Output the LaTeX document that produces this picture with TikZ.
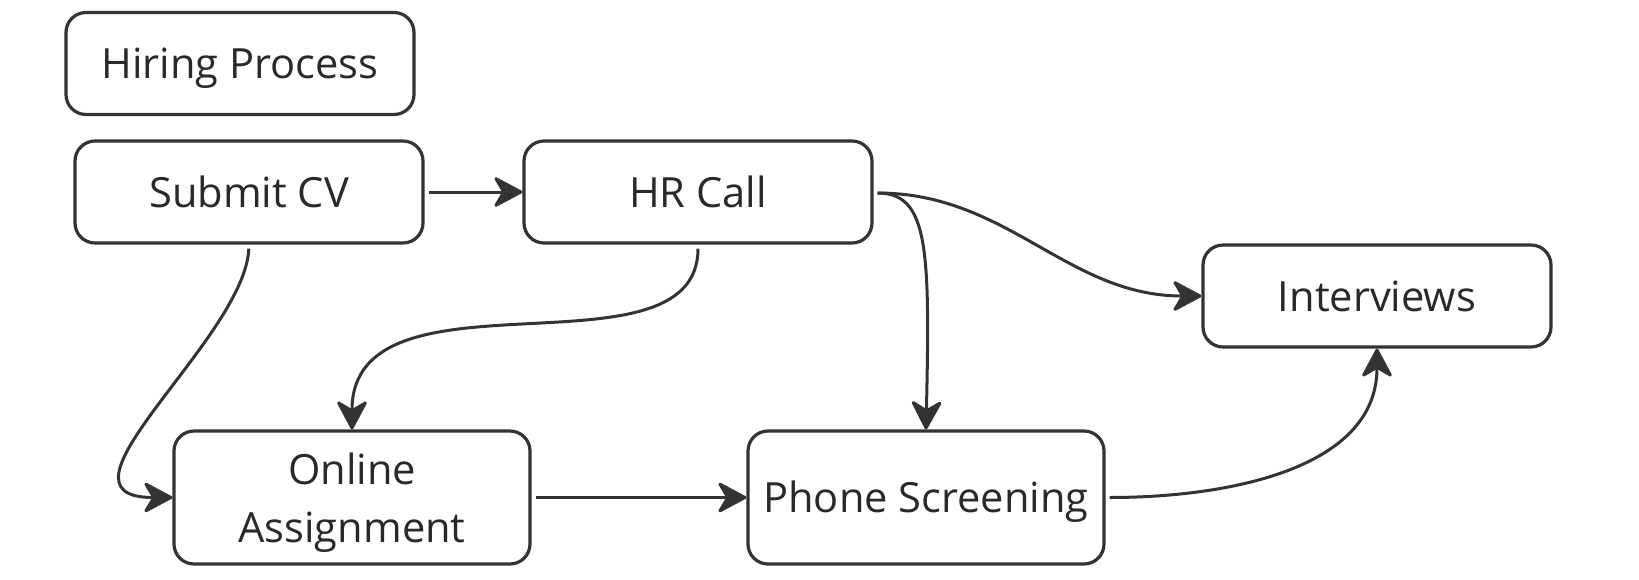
\documentclass[tikz,border=0pt]{standalone}
\usepackage{fontspec}
\setmainfont{Open Sans}
\usetikzlibrary{arrows.meta}
\definecolor{ink}{HTML}{333333}
\newcommand{\boxfont}{\fontsize{20.8}{28.7}\selectfont}

\begin{document}
\begin{tikzpicture}[x=0.5pt,y=-0.5pt,
   boxbase/.style={draw=ink,line width=1.6pt,rounded corners=10pt,fill=white,
      text=ink!80!black,align=center,inner sep=0pt,font=\boxfont},
   capmid/.style={text height=15pt,text depth=0pt},
   stepbox/.style={boxbase,capmid,minimum width=174pt,minimum height=51pt},
   widebox/.style={boxbase,minimum width=178pt,minimum height=66.5pt},
   flow/.style={draw=ink,line width=1.5pt,shorten <=2pt,
      -{Stealth[length=16pt,width=17pt,inset=5pt,round]}}]
   \useasboundingbox (0,0) rectangle (1639,579);
   \node[stepbox] (title) at ( 240, 63.5) {Hiring Process};
   \node[stepbox] (sub)   at ( 249,192)   {Submit CV};
   \node[stepbox] (hr)    at ( 698,192)   {HR Call};
   \node[stepbox] (intv)  at (1377,296)   {Interviews};
   \node[widebox,text depth=0pt] (onl) at ( 352,497.5) {Online\\Assignment};
   \node[widebox,capmid] (phone) at ( 926,497.5) {Phone Screening};
   \draw[flow] (sub.east) -- (hr.west);
   \draw[flow] (sub.south) .. controls +(-4,94) and +(-134,0) .. (onl.west);
   \draw[flow] (hr.south) .. controls +(0,140) and +(0,-170) .. (onl.north);
   \draw[flow] ([yshift=-0.5pt]hr.east) .. controls +(55,0) and +(4,-180) .. (phone.north);
   \draw[flow] ([yshift=-0.5pt]hr.east) to[out=0,in=180] (intv.west);
   \draw[flow] (onl.east) -- (phone.west);
   \draw[flow] (phone.east) to[out=0,in=-90] (intv.south);
\end{tikzpicture}
\end{document}
